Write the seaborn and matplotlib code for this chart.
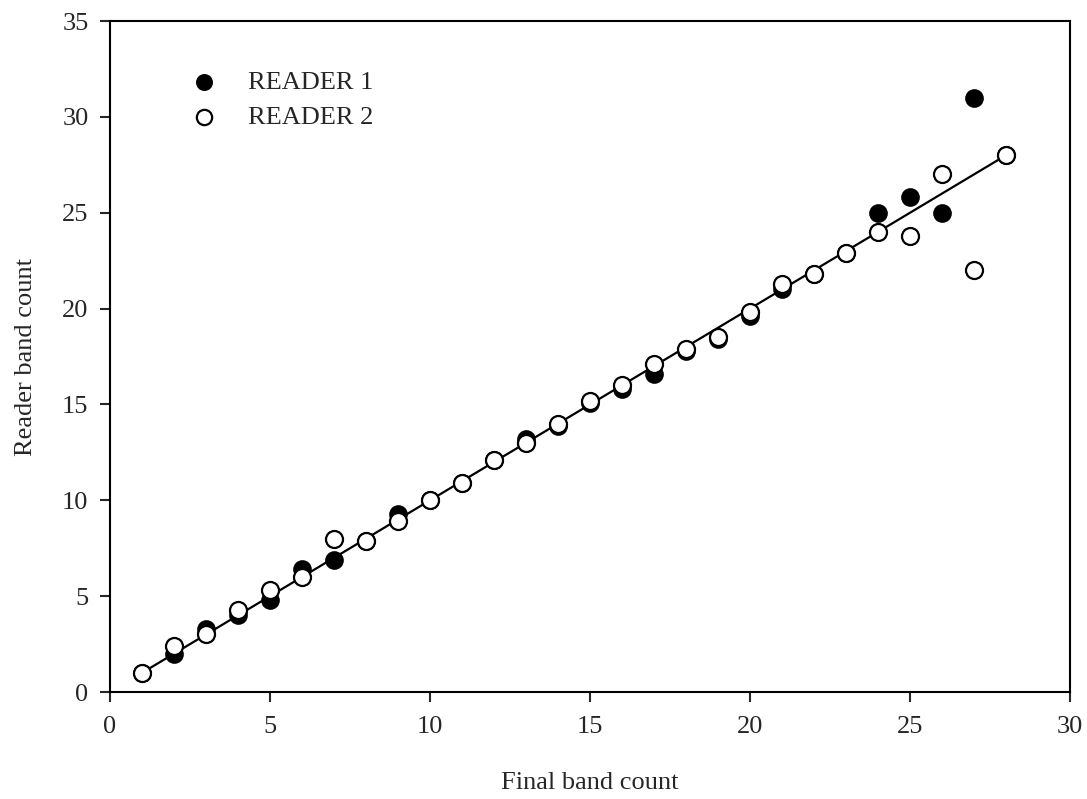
import pandas as pd
import matplotlib.pyplot as plt
import seaborn as sns
import numpy as np

sns.set_style('ticks')
plt.rcParams['font.family'] = ['Liberation Serif', 'DejaVu Serif']

# Data
final_count = list(range(1, 29))
reader1 = [1.0, 2.0, 3.3, 4.0, 4.8, 6.4, 6.9, 7.9, 9.3, 10.0, 10.9, 12.1, 13.2, 13.9,
           15.1, 15.8, 16.6, 17.8, 18.4, 19.6, 21.0, 21.8, 22.9, 25.0, 25.8, 25.0, 31.0, 28.0]
reader2 = [1.0, 2.4, 3.0, 4.3, 5.3, 6.0, 8.0, 7.9, 8.9, 10.0, 10.9, 12.1, 13.0, 14.0,
           15.2, 16.0, 17.1, 17.9, 18.5, 19.8, 21.3, 21.8, 22.9, 24.0, 23.8, 27.0, 22.0, 28.0]
line_x = [1, 28]
line_y = [1, 28]

df = pd.DataFrame({'final': final_count * 2,
                   'count': reader1 + reader2,
                   'reader': ['READER 1'] * 28 + ['READER 2'] * 28})

fig = plt.figure(figsize=(10.87, 7.99), dpi=100)
ax = fig.add_axes([0.1012, 0.1339, 0.8832, 0.8398])

# 1:1 line
sns.lineplot(x=line_x, y=line_y, color='black', linewidth=1.6, ax=ax)

# Reader 1 filled, Reader 2 open on top
sns.scatterplot(data=df[df['reader'] == 'READER 1'], x='final', y='count',
                color='black', edgecolor='black', s=150, linewidth=1.2,
                label='READER 1', ax=ax, zorder=3)
sns.scatterplot(data=df[df['reader'] == 'READER 2'], x='final', y='count',
                color='white', edgecolor='black', s=150, linewidth=1.6,
                label='READER 2', ax=ax, zorder=4)

ax.set_xlim(0, 30)
ax.set_ylim(0, 35)
ax.set_xticks(np.arange(0, 31, 5))
ax.set_yticks(np.arange(0, 36, 5))
ax.set_xlabel('Final band count', fontsize=19, labelpad=24)
ax.set_ylabel('Reader band count', fontsize=19, labelpad=18)
ax.tick_params(direction='out', length=7.5, width=1.5, labelsize=19)
ax.tick_params(axis='x', pad=10)
ax.tick_params(axis='y', pad=8)
for sp in ax.spines.values():
    sp.set_linewidth(1.5)
    sp.set_color('black')

ax.legend(loc='upper left', bbox_to_anchor=(0.142, 0.942),
          bbox_transform=fig.transFigure, frameon=False,
          fontsize=19, handletextpad=0.65, labelspacing=0.45, markerscale=0.9)

plt.savefig('out.png', dpi=100)
plt.close('all')
